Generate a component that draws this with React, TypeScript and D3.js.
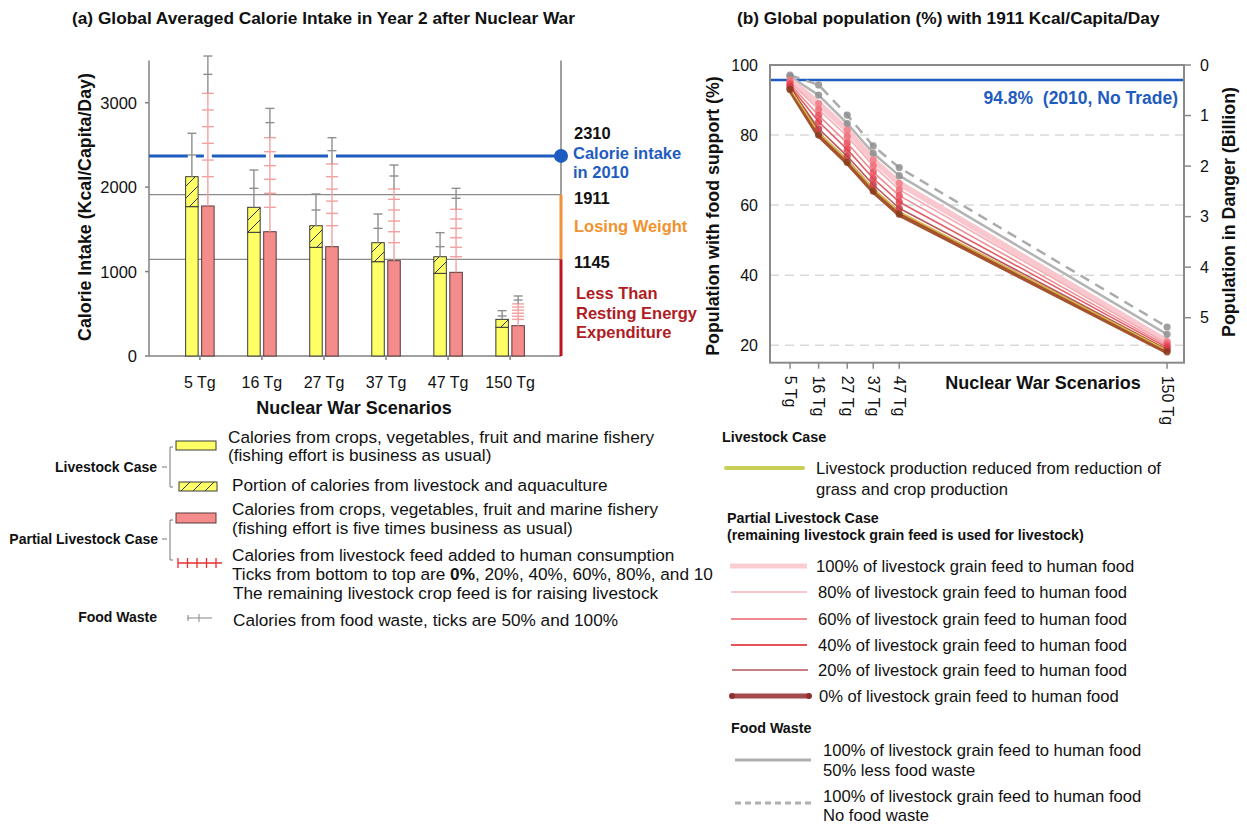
import React from "react";
import * as d3 from "d3";

// ---------- Panel (a) data ----------
const scenarios = ["5 Tg", "16 Tg", "27 Tg", "37 Tg", "47 Tg", "150 Tg"];
const cropsLivestock = [1769, 1465, 1287, 1117, 979, 340];
const totalLivestock = [2124, 1761, 1543, 1342, 1176, 434];
const wasteLivestock50 = [2381, 1986, 1729, 1512, 1295, 474];
const wasteLivestock100 = [2638, 2203, 1919, 1682, 1461, 537];
const cropsPartial = [1777, 1472, 1295, 1129, 991, 359];
const feedTicks5 = [2124, 2321, 2519, 2716, 2914, 3111];
const feedTicks16 = [1761, 1927, 2093, 2254, 2420, 2586];
const feedTicks27 = [1543, 1689, 1835, 1977, 2124, 2274];
const feedTicks37 = [1342, 1472, 1599, 1729, 1856, 1978];
const feedTicks47 = [1176, 1287, 1401, 1512, 1623, 1737];
const feedTicks150 = [434, 470, 507, 543, 580, 617];
const feedTicks = [feedTicks5, feedTicks16, feedTicks27, feedTicks37, feedTicks47, feedTicks150];
const wastePartial50 = [3336, 2764, 2432, 2132, 1868, 663];
const wastePartial100 = [3553, 2933, 2586, 2262, 1986, 711];
const calorieTicks = [0, 1000, 2000, 3000];
const intake2010 = 2370;
const losingWeight = 1911;
const restingEnergy = 1145;

// ---------- Panel (b) data ----------
const tgValues = [5, 16, 27, 37, 47, 150];
const tgLabels = ["5 Tg", "16 Tg", "27 Tg", "37 Tg", "47 Tg", "150 Tg"];
const noWaste = [97.1, 94.3, 85.7, 76.9, 70.7, 25.2];
const halfWaste = [96.7, 91.4, 83.3, 74.8, 68.4, 23.1];
const feed100 = [95.7, 89.0, 81.4, 72.9, 66.2, 21.0];
const feed80 = [95.2, 87.3, 79.6, 71.2, 64.4, 20.4];
const feed60 = [94.6, 85.6, 77.7, 69.4, 62.7, 19.8];
const feed40 = [94.1, 83.8, 75.9, 67.6, 60.9, 19.3];
const feed20 = [93.5, 81.8, 74.0, 65.8, 59.1, 18.7];
const feed0 = [93.0, 80.0, 72.2, 64.0, 57.4, 18.1];
const livestockCase = [93.3, 80.7, 72.9, 64.7, 58.1, 18.5];
const percentTicks = [20, 40, 60, 80, 100];
const billionTicks = [0, 1, 2, 3, 4, 5];
const noTrade2010 = 95.7;

const FONT = "'Liberation Sans', Arial, Helvetica, sans-serif";
const YELLOW = "#ffff66";
const RED = "#f48c8c";
const BLUE = "#1f5cbf";
const GRAYBAR = "#8f8f8f";
const PINKBAR = "#f4a0a0";

function PanelA() {
  const y = d3.scaleLinear().domain([0, 3500]).range([356, 60.5]);
  const x = d3.scaleBand<string>().domain(scenarios).range([149, 561]).paddingInner(0).paddingOuter(0.32);
  const cx = (s: string) => (x(s) as number) + x.bandwidth() / 2;
  const barW = 12.5;
  const off = 8;
  const xL = 149, xR = 561;

  const gaps: number[] = [];
  scenarios.forEach((s, i) => {
    if (totalLivestock[i] < intake2010 && wasteLivestock100[i] > intake2010) gaps.push(cx(s) - off);
    if (cropsPartial[i] < intake2010 && wastePartial100[i] > intake2010) gaps.push(cx(s) + off);
  });

  return (
    <g fontFamily={FONT}>
      <text x={72} y={18} fontSize={17.3} fontWeight="bold" dominantBaseline="central" fill="#111">
        (a) Global Averaged Calorie Intake in Year 2 after Nuclear War
      </text>
      {[losingWeight, restingEnergy].map((v) => (
        <line key={v} x1={xL} x2={xR} y1={y(v)} y2={y(v)} stroke="#8a8a8a" strokeWidth={1.3} />
      ))}
      <line x1={xL} x2={xL} y1={y(3500)} y2={y(0)} stroke="#808080" strokeWidth={1.5} />
      <line x1={xL} x2={xR} y1={y(0)} y2={y(0)} stroke="#808080" strokeWidth={1.5} />
      <line x1={xR} x2={xR} y1={y(3500)} y2={y(losingWeight)} stroke="#808080" strokeWidth={1.5} />
      <line x1={xR} x2={xR} y1={y(losingWeight)} y2={y(restingEnergy)} stroke="#f0923a" strokeWidth={3} />
      <line x1={xR} x2={xR} y1={y(restingEnergy)} y2={y(0)} stroke="#c0141e" strokeWidth={3} />
      {calorieTicks.map((t) => (
        <g key={t}>
          <line x1={xL - 4} x2={xL} y1={y(t)} y2={y(t)} stroke="#808080" strokeWidth={1.5} />
          <text x={137} y={y(t)} fontSize={16.5} textAnchor="end" dominantBaseline="central" fill="#111">
            {t}
          </text>
        </g>
      ))}
      {scenarios.map((s) => (
        <g key={s}>
          <line x1={cx(s)} x2={cx(s)} y1={y(0)} y2={y(0) + 4} stroke="#808080" strokeWidth={1.5} />
          <text x={cx(s)} y={382} fontSize={16} textAnchor="middle" dominantBaseline="central" fill="#111">
            {s}
          </text>
        </g>
      ))}
      <text
        transform={`translate(85,207) rotate(-90)`}
        fontSize={17.8}
        fontWeight="bold"
        textAnchor="middle"
        dominantBaseline="central"
        fill="#111"
      >
        Calorie Intake (Kcal/Capita/Day)
      </text>
      <text x={354} y={408} fontSize={18} fontWeight="bold" textAnchor="middle" dominantBaseline="central" fill="#111">
        Nuclear War Scenarios
      </text>
      {scenarios.map((s, i) => {
        const c = cx(s);
        return (
          <g key={s}>
            <rect x={c - off - barW / 2} y={y(cropsLivestock[i])} width={barW} height={y(0) - y(cropsLivestock[i])} fill={YELLOW} stroke="#3a3a3a" strokeWidth={1} />
            <rect x={c - off - barW / 2} y={y(totalLivestock[i])} width={barW} height={y(cropsLivestock[i]) - y(totalLivestock[i])} fill="url(#hatch)" stroke="#3a3a3a" strokeWidth={1} />
            <rect x={c + off - barW / 2} y={y(cropsPartial[i])} width={barW} height={y(0) - y(cropsPartial[i])} fill={RED} stroke="#5a3a3a" strokeWidth={1} />
          </g>
        );
      })}
      <line x1={xL} x2={xR} y1={y(intake2010)} y2={y(intake2010)} stroke={BLUE} strokeWidth={3} />
      {gaps.map((g, i) => (
        <rect key={i} x={g - 4} y={y(intake2010) - 2.5} width={8} height={5} fill="#fff" />
      ))}
      {scenarios.map((s, i) => {
        const cy = cx(s) - off;
        const cr = cx(s) + off;
        const ft = feedTicks[i];
        return (
          <g key={s}>
            <line x1={cy} x2={cy} y1={y(totalLivestock[i])} y2={y(wasteLivestock100[i])} stroke={GRAYBAR} strokeWidth={1.4} />
            {[wasteLivestock50[i], wasteLivestock100[i]].map((v, k) => (
              <line key={k} x1={cy - 4.5} x2={cy + 4.5} y1={y(v)} y2={y(v)} stroke={GRAYBAR} strokeWidth={1.4} />
            ))}
            <line x1={cr} x2={cr} y1={y(cropsPartial[i])} y2={y(ft[ft.length - 1])} stroke={PINKBAR} strokeWidth={1.4} />
            {ft.map((v, k) => (
              <line key={k} x1={cr - 6} x2={cr + 6} y1={y(v)} y2={y(v)} stroke={PINKBAR} strokeWidth={1.4} />
            ))}
            <line x1={cr} x2={cr} y1={y(ft[ft.length - 1])} y2={y(wastePartial100[i])} stroke={GRAYBAR} strokeWidth={1.4} />
            {[wastePartial50[i], wastePartial100[i]].map((v, k) => (
              <line key={k} x1={cr - 4.5} x2={cr + 4.5} y1={y(v)} y2={y(v)} stroke={GRAYBAR} strokeWidth={1.4} />
            ))}
          </g>
        );
      })}
      <circle cx={xR} cy={y(intake2010)} r={7} fill={BLUE} />
      <g fontSize={16.5} fontWeight="bold" dominantBaseline="central">
        <text x={574} y={133} fill="#111">2310</text>
        <text x={573} y={153} fill={BLUE}>Calorie intake</text>
        <text x={573} y={172} fill={BLUE}>in 2010</text>
        <text x={574} y={198} fill="#111">1911</text>
        <text x={574} y={226} fill="#f0922e">Losing Weight</text>
        <text x={574} y={262} fill="#111">1145</text>
        <text x={576} y={293} fill="#b01c24">Less Than</text>
        <text x={576} y={313} fill="#b01c24">Resting Energy</text>
        <text x={576} y={332} fill="#b01c24">Expenditure</text>
      </g>
      <g fontSize={14} fontWeight="bold" textAnchor="end" dominantBaseline="central" fill="#111">
        <text x={157} y={467}>Livestock Case</text>
        <text x={158} y={539}>Partial Livestock Case</text>
        <text x={157} y={617}>Food Waste</text>
      </g>
      <g stroke="#777" strokeWidth={1} fill="none">
        <path d="M173,447 H170 V487 H173 M162,467 H167" />
        <path d="M173,520 H170 V560 H173 M162,539 H167" />
      </g>
      <rect x={176} y={441} width={40} height={9} fill={YELLOW} stroke="#3a3a3a" />
      <rect x={179} y={482} width={38} height={9} fill="url(#hatch)" stroke="#3a3a3a" />
      <rect x={176} y={513} width={40} height={10} fill={RED} stroke="#5a3a3a" />
      <g stroke="#e83030" strokeWidth={1.3}>
        <line x1={178} x2={222} y1={563} y2={563} />
        {[178, 187.5, 197, 206.5, 216].map((t) => (
          <line key={t} x1={t} x2={t} y1={558} y2={568} />
        ))}
      </g>
      <g stroke="#999" strokeWidth={1.2}>
        <line x1={187} x2={212} y1={618} y2={618} />
        <line x1={188} x2={188} y1={615} y2={621} />
        <line x1={199} x2={199} y1={614} y2={622} />
      </g>
      <g fontSize={17.2} dominantBaseline="central" fill="#111">
        <text x={228} y={437}>Calories from crops, vegetables, fruit and marine fishery</text>
        <text x={228} y={455}>(fishing effort is business as usual)</text>
        <text x={232} y={485}>Portion of calories from livestock and aquaculture</text>
        <text x={232} y={509}>Calories from crops, vegetables, fruit and marine fishery</text>
        <text x={232} y={528}>(fishing effort is five times business as usual)</text>
        <text x={232} y={555}>Calories from livestock feed added to human consumption</text>
        <text x={232} y={574}>
          Ticks from bottom to top are <tspan fontWeight="bold">0%</tspan>, 20%, 40%, 60%, 80%, and 10
        </text>
        <text x={233} y={593}>The remaining livestock crop feed is for raising livestock</text>
        <text x={233} y={620}>Calories from food waste, ticks are 50% and 100%</text>
      </g>
    </g>
  );
}

function PanelB() {
  const x = d3.scaleLinear().domain([-2.7, 156.5]).range([770, 1184]);
  const y = d3.scaleLinear().domain([15, 100]).range([362.7, 65]);
  const yR = d3.scaleLinear().domain([0, 5.89]).range([65, 362.7]);
  const line = d3
    .line<number>()
    .x((_, i) => x(tgValues[i]))
    .y((d) => y(d));
  const xL = 770, xR = 1184, yT = 65, yB = 362.7;

  const series = [
    { data: noWaste, color: "#ababab", w: 2.5, dash: "10,7", dot: "#8e8e8e" },
    { data: halfWaste, color: "#b4b4b4", w: 2.5, dash: "", dot: "#8e8e8e" },
    { data: feed100, color: "#f9c8ce", w: 6, dash: "", dot: "#f07c86" },
    { data: feed80, color: "#f5aeb5", w: 1.6, dash: "", dot: "#ee6a76" },
    { data: feed60, color: "#ee8c94", w: 1.6, dash: "", dot: "#e8505e" },
    { data: feed40, color: "#e45c66", w: 1.6, dash: "", dot: "#e0404c" },
    { data: feed20, color: "#b8565e", w: 1.6, dash: "", dot: "#c83a44" },
    { data: feed0, color: "#a5532f", w: 5, dash: "", dot: "#8a3a1c" },
    { data: livestockCase, color: "#d9b84a", w: 1.5, dash: "", dot: "" },
  ];

  return (
    <g fontFamily={FONT}>
      <text x={737} y={18} fontSize={17.3} fontWeight="bold" dominantBaseline="central" fill="#111">
        (b) Global population (%) with 1911 Kcal/Capita/Day
      </text>
      {percentTicks.filter((t) => t < 100).map((t) => (
        <line key={t} x1={xL} x2={xR} y1={y(t)} y2={y(t)} stroke="#d9d9d9" strokeWidth={1.5} strokeDasharray="9,6" />
      ))}
      <line x1={xL} x2={xR} y1={y(noTrade2010)} y2={y(noTrade2010)} stroke={BLUE} strokeWidth={2.5} />
      <text x={1178} y={98} fontSize={17.5} fontWeight="bold" textAnchor="end" dominantBaseline="central" fill={BLUE} style={{ whiteSpace: "pre" }}>
        {"94.8%  (2010, No Trade)"}
      </text>
      {series.map((s, i) => (
        <path key={i} d={line(s.data) || ""} fill="none" stroke={s.color} strokeWidth={s.w} strokeDasharray={s.dash || undefined} strokeLinejoin="round" />
      ))}
      {series.filter((s) => s.dot).map((s, i) => (
        <g key={i}>
          {s.data.map((d, k) => (
            <circle key={k} cx={x(tgValues[k])} cy={y(d)} r={3.6} fill={s.dot} opacity={0.85} />
          ))}
        </g>
      ))}
      <rect x={xL} y={yT} width={xR - xL} height={yB - yT} fill="none" stroke="#8a8a8a" strokeWidth={2} />
      {percentTicks.map((t) => (
        <text key={t} x={758} y={y(t)} fontSize={16} textAnchor="end" dominantBaseline="central" fill="#111">
          {t}
        </text>
      ))}
      {billionTicks.map((t) => (
        <g key={t}>
          <line x1={xR} x2={xR + 7} y1={yR(t)} y2={yR(t)} stroke="#8a8a8a" strokeWidth={1.5} />
          <text x={1200} y={yR(t)} fontSize={16} dominantBaseline="central" fill="#111">
            {t}
          </text>
        </g>
      ))}
      {tgValues.map((v, i) => (
        <g key={v}>
          <line x1={x(v)} x2={x(v)} y1={yB} y2={yB + 6} stroke="#8a8a8a" strokeWidth={1.5} />
          <text transform={`translate(${x(v)},${yB + 13}) rotate(90)`} fontSize={16} dominantBaseline="central" fill="#111">
            {tgLabels[i]}
          </text>
        </g>
      ))}
      <text x={1043} y={383} fontSize={18} fontWeight="bold" textAnchor="middle" dominantBaseline="central" fill="#111">
        Nuclear War Scenarios
      </text>
      <text transform="translate(713,216) rotate(-90)" fontSize={17.8} fontWeight="bold" textAnchor="middle" dominantBaseline="central" fill="#111">
        Population with food support (%)
      </text>
      <text transform="translate(1229,212) rotate(-90)" fontSize={17.8} fontWeight="bold" textAnchor="middle" dominantBaseline="central" fill="#111">
        Population in Danger (Billion)
      </text>
      <g fontSize={14.3} fontWeight="bold" dominantBaseline="central" fill="#111">
        <text x={722} y={437}>Livestock Case</text>
        <text x={727} y={518}>Partial Livestock Case</text>
        <text x={727} y={535}>(remaining livestock grain feed is used for livestock)</text>
        <text x={731} y={728}>Food Waste</text>
      </g>
      <line x1={726} x2={803} y1={468} y2={468} stroke="#c8cf55" strokeWidth={4} strokeLinecap="round" />
      <line x1={730} x2={807} y1={566} y2={566} stroke="#f9cdd2" strokeWidth={5} />
      <line x1={731} x2={807} y1={592} y2={592} stroke="#f6b5bb" strokeWidth={1.5} />
      <line x1={731} x2={807} y1={619} y2={619} stroke="#ef8a92" strokeWidth={1.8} />
      <line x1={731} x2={807} y1={645} y2={645} stroke="#e4525e" strokeWidth={1.8} />
      <line x1={732} x2={808} y1={670} y2={670} stroke="#b2545c" strokeWidth={1.5} />
      <line x1={732} x2={809} y1={696} y2={696} stroke="#a54848" strokeWidth={5} />
      <circle cx={732} cy={696} r={3} fill="#8c3030" />
      <circle cx={809} cy={696} r={3} fill="#8c3030" />
      <line x1={735} x2={811} y1={760} y2={760} stroke="#b0b0b0" strokeWidth={3} />
      <line x1={735} x2={811} y1={803} y2={803} stroke="#b0b0b0" strokeWidth={3} strokeDasharray="6,4" />
      <g fontSize={16.6} dominantBaseline="central" fill="#111">
        <text x={816} y={468}>Livestock production reduced from reduction of</text>
        <text x={816} y={489}>grass and crop production</text>
        <text x={816} y={566}>100% of livestock grain feed to human food</text>
        <text x={818} y={592}>80% of livestock grain feed to human food</text>
        <text x={818} y={619}>60% of livestock grain feed to human food</text>
        <text x={818} y={645}>40% of livestock grain feed to human food</text>
        <text x={818} y={670}>20% of livestock grain feed to human food</text>
        <text x={819} y={696}>0% of livestock grain feed to human food</text>
        <text x={823} y={750}>100% of livestock grain feed to human food</text>
        <text x={823} y={770}>50% less food waste</text>
        <text x={823} y={796}>100% of livestock grain feed to human food</text>
        <text x={823} y={815}>No food waste</text>
      </g>
    </g>
  );
}

export default function App() {
  return (
    <div style={{ position: "absolute", left: 0, top: 0 }}>
      <svg width={1247} height={824} viewBox="0 0 1247 824" style={{ display: "block", background: "#fff" }}>
        <defs>
          <pattern id="hatch" patternUnits="userSpaceOnUse" width={12} height={12}>
            <rect width={12} height={12} fill={YELLOW} />
            <path d="M-1,13 L13,-1 M-7,7 L7,-7 M5,19 L19,5" stroke="#333" strokeWidth={1} />
          </pattern>
        </defs>
        <rect width={1247} height={824} fill="#fff" />
        <PanelA />
        <PanelB />
      </svg>
    </div>
  );
}
